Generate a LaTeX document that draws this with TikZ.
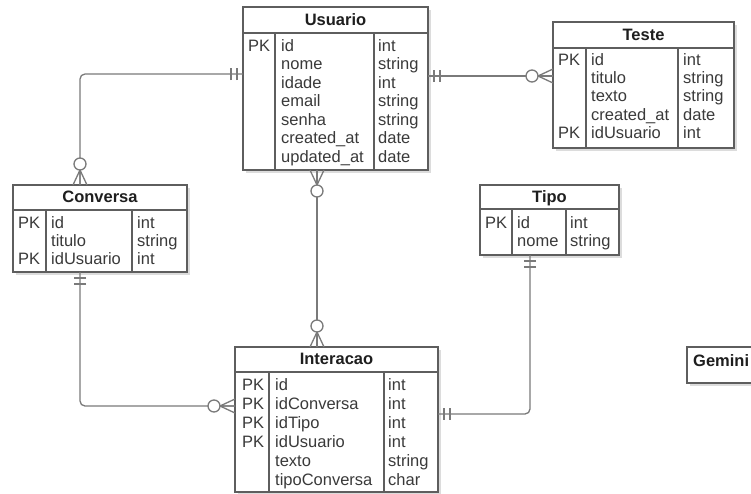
\documentclass[tikz,border=0pt]{standalone}
\usepackage{fontspec}
\setmainfont{Liberation Sans}
\usetikzlibrary{calc,shadows}

\definecolor{edge}{HTML}{5E5E5E}
\definecolor{wirec}{HTML}{7A7A7A}
\definecolor{ink}{HTML}{3A3A3A}
\definecolor{titleink}{HTML}{1E1E1E}
\definecolor{shade}{HTML}{DCDCDC}

\tikzset{
  x=1pt, y=-1pt,
  tbl/.style={draw=edge, line width=1.1pt, fill=white, anchor=north west,
    inner sep=0pt, outer sep=0pt,
    drop shadow={shadow xshift=3pt, shadow yshift=-3pt, fill=shade, opacity=1}},
  rule/.style={draw=edge, line width=1.1pt},
  cell/.style={anchor=base west, inner sep=0pt, text=ink,
    font=\fontsize{16.5}{18}\selectfont},
  ttl/.style={anchor=base, inner sep=0pt, text=titleink,
    font=\fontsize{16.5}{18}\selectfont\bfseries},
  wire/.style={draw=wirec, line width=1.3pt},
  pics/onlyone/.style={code={
    \draw[wire] (6,-6) -- (6,6) (12,-6) -- (12,6);}},
  pics/zeromany/.style={code={
    \draw[wire] (0,-7) -- (15,0) -- (0,7) (0,0) -- (15,0);
    \draw[wire, fill=white] (21,0) circle[radius=6pt];}},
}

% one column of field texts: prefix, x, first baseline, step, entries
\newcommand\fieldcol[5]{%
  \foreach \t [count=\i] in {#5}{\node[cell] (#1\i) at (#2,{#3+(\i-1)*#4}) {\t};}}

% header rule and the two column rules of a table
\newcommand\tablerules[4]{% name, header height, first column offset, second column offset
  \draw[rule] ($(#1.north west)+(0,#2)$) -- ($(#1.north east)+(0,#2)$);
  \draw[rule] ($(#1.north west)+(#3,#2)$) -- ($(#1.south west)+(#3,0)$);
  \draw[rule] ($(#1.north west)+(#4,#2)$) -- ($(#1.south west)+(#4,0)$);}

\begin{document}
\begin{tikzpicture}
\fill[white] (0,0) rectangle (751,493);
\useasboundingbox (0,0) rectangle (751,493);

% ---------------- Usuario ----------------
\node[tbl, minimum width=185pt, minimum height=163pt] (usuario) at (243,7) {};
\tablerules{usuario}{26}{32}{131}
\node[ttl] (usuarioT) at ($(usuario.north)+(0,18)$) {Usuario};
\node[cell] (upk1) at (248,51) {PK};
\fieldcol{un}{281}{51}{18.5}{id,nome,idade,email,senha,created\_at,updated\_at}
\fieldcol{ut}{378}{51}{18.5}{int,string,int,string,string,date,date}

% ---------------- Teste ----------------
\node[tbl, minimum width=181pt, minimum height=126pt] (teste) at (553,22) {};
\tablerules{teste}{26}{33}{125}
\node[ttl] (testeT) at ($(teste.north)+(0,18)$) {Teste};
\node[cell] (tpk1) at (558,65.5) {PK};
\node[cell] (tpk5) at (558,138.3) {PK};
\fieldcol{tn}{591}{65.5}{18.2}{id,titulo,texto,created\_at,idUsuario}
\fieldcol{tt}{683}{65.5}{18.2}{int,string,string,date,int}

% ---------------- Conversa ----------------
\node[tbl, minimum width=174pt, minimum height=87pt] (conversa) at (13,185) {};
\tablerules{conversa}{25}{33}{119}
\node[ttl] (conversaT) at ($(conversa.north)+(0,17.5)$) {Conversa};
\node[cell] (cpk1) at (18,228.3) {PK};
\node[cell] (cpk3) at (18,264.9) {PK};
\fieldcol{cn}{51}{228.3}{18.3}{id,titulo,idUsuario}
\fieldcol{ct}{137}{228.3}{18.3}{int,string,int}

% ---------------- Tipo ----------------
\node[tbl, minimum width=139pt, minimum height=70pt] (tipo) at (480,185) {};
\tablerules{tipo}{24}{32}{86}
\node[ttl] (tipoT) at ($(tipo.north)+(0,17.5)$) {Tipo};
\node[cell] (ppk1) at (485,228.8) {PK};
\fieldcol{pn}{517}{228.8}{18}{id,nome}
\fieldcol{pt}{570}{228.8}{18}{int,string}

% ---------------- Interacao ----------------
\node[tbl, minimum width=203pt, minimum height=145pt] (interacao) at (235,347) {};
\tablerules{interacao}{25}{34}{149}
\node[ttl] (interacaoT) at ($(interacao.north)+(0,17.5)$) {Interacao};
\fieldcol{ipk}{242}{390.7}{19}{PK,PK,PK,PK}
\fieldcol{in}{275}{390.7}{19}{id,idConversa,idTipo,idUsuario,texto,tipoConversa}
\fieldcol{it}{388}{390.7}{19}{int,int,int,int,string,char}

% ---------------- Gemini ----------------
\node[tbl, minimum width=80pt, minimum height=36pt] (gemini) at (687,347) {};
\node[ttl, anchor=base west] (geminiT) at (693,366) {Gemini};

% ---------------- connection points ----------------
\coordinate (uW) at ($(usuario.north west)+(0,67)$);
\coordinate (uE) at ($(usuario.north east)+(0,69)$);
\coordinate (uS) at ($(usuario.south west)+(74,0)$);
\coordinate (tW) at ($(teste.north west)+(0,54)$);
\coordinate (cN) at ($(conversa.north west)+(67,0)$);
\coordinate (cS) at ($(conversa.south west)+(67,0)$);
\coordinate (pS) at ($(tipo.south west)+(50,0)$);
\coordinate (iN) at ($(interacao.north west)+(82,0)$);
\coordinate (iW) at ($(interacao.north west)+(0,59)$);
\coordinate (iE) at ($(interacao.north east)+(0,67)$);

% ---------------- relationships ----------------
\draw[wire, rounded corners=5pt] (uW) -| (cN);
\draw[wire] (uE) -- (tW);
\draw[wire] (uS) -- (iN);
\draw[wire, rounded corners=5pt] (cS) |- (iW);
\draw[wire, rounded corners=5pt] (pS) |- (iE);

\pic[rotate=180] at (uW) {onlyone};
\pic[rotate=90] at (cN) {zeromany};
\pic at (uE) {onlyone};
\pic[rotate=180] at (tW) {zeromany};
\pic[rotate=-90] at (uS) {zeromany};
\pic[rotate=90] at (iN) {zeromany};
\pic[rotate=-90] at (cS) {onlyone};
\pic[rotate=180] at (iW) {zeromany};
\pic[rotate=-90] at (pS) {onlyone};
\pic at (iE) {onlyone};
\end{tikzpicture}
\end{document}
